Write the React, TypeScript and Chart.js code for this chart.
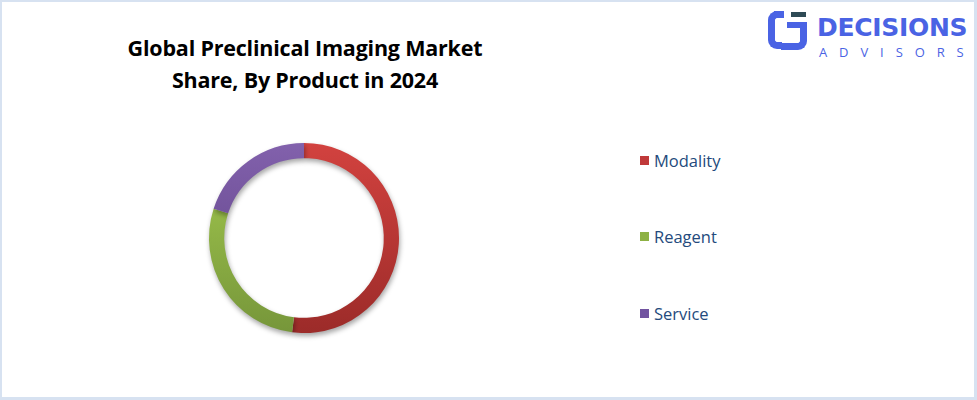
import React, { useEffect, useRef } from "react";
import { Chart, registerables } from "chart.js";

Chart.register(...registerables);

const titleLines = ["Global Preclinical Imaging Market", "Share, By Product in 2024"];
const categories = ["Modality", "Reagent", "Service"];
const shares = [52, 28, 20];
const topColors = ["#D2423F", "#A5CB4F", "#8261AC"];
const bottomColors = ["#9C2B29", "#76963A", "#5A3E82"];
const legendColors = ["#C0393A", "#8DB144", "#7153A0"];

export default function App() {
  const ref = useRef<HTMLCanvasElement | null>(null);

  useEffect(() => {
    if (!ref.current) return;
    const shadowPlugin = {
      id: "ringShadow",
      beforeDatasetsDraw(chart: any) {
        const ctx = chart.ctx;
        ctx.save();
        ctx.shadowColor = "rgba(0,0,0,0.35)";
        ctx.shadowBlur = 5;
        ctx.shadowOffsetX = 1;
        ctx.shadowOffsetY = 3;
      },
      afterDatasetsDraw(chart: any) {
        chart.ctx.restore();
      },
    };
    const chart = new Chart(ref.current, {
      type: "doughnut",
      data: {
        labels: categories,
        datasets: [
          {
            data: shares,
            borderWidth: 0,
            backgroundColor: (c: any) => {
              const area = c.chart.chartArea;
              if (!area) return topColors[c.dataIndex];
              const g = c.chart.ctx.createLinearGradient(0, area.top, 0, area.bottom);
              g.addColorStop(0, topColors[c.dataIndex]);
              g.addColorStop(1, bottomColors[c.dataIndex]);
              return g;
            },
          },
        ],
      },
      options: {
        animation: false,
        responsive: false,
        maintainAspectRatio: false,
        cutout: "84%",
        layout: { padding: 10 },
        plugins: { legend: { display: false }, tooltip: { enabled: false } },
      },
      plugins: [shadowPlugin],
    });
    return () => chart.destroy();
  }, []);

  return (
    <div
      style={{
        position: "fixed",
        left: 0,
        top: 0,
        width: 977,
        height: 400,
        boxSizing: "border-box",
        borderTop: "2px solid #D7E2F1",
        borderLeft: "2px solid #D7E2F1",
        borderRight: "3px solid #D7E2F1",
        borderBottom: "3px solid #D7E2F1",
        background: "#fff",
        fontFamily: "'Open Sans', sans-serif",
      }}
    >
      <div
        style={{
          position: "absolute",
          left: 53,
          top: 30,
          width: 500,
          textAlign: "center",
          fontWeight: 700,
          fontSize: 21.5,
          lineHeight: "32px",
          color: "#000",
          letterSpacing: -0.2,
        }}
      >
        {titleLines.map((t, i) => (
          <div key={i}>{t}</div>
        ))}
      </div>

      <canvas
        ref={ref}
        width={210}
        height={210}
        style={{ position: "absolute", left: 197, top: 131, width: 210, height: 210 }}
      />

      {categories.map((c, i) => (
        <div
          key={c}
          style={{
            position: "absolute",
            left: 638,
            top: 146 + i * 76.5,
            height: 24,
            display: "flex",
            alignItems: "center",
            fontSize: 16.5,
            color: "#244A7C",
          }}
        >
          <span
            style={{
              display: "inline-block",
              width: 9,
              height: 9,
              background: legendColors[i],
              marginRight: 5,
            }}
          />
          <span>{c}</span>
        </div>
      ))}

      {/* logo */}
      <div style={{ position: "absolute", left: 766, top: 8, width: 42, height: 42 }}>
        <div
          style={{
            position: "absolute",
            left: 0,
            top: 1,
            width: 14,
            height: 38,
            border: "7px solid #4A63E4",
            borderRight: "none",
            borderRadius: "9px 0 0 9px",
            boxSizing: "border-box",
          }}
        />
        <div style={{ position: "absolute", left: 6, top: 1, width: 10, height: 7, background: "#4A63E4" }} />
        <div style={{ position: "absolute", left: 23, top: 2, width: 15, height: 5, background: "#2E4A55" }} />
        <div
          style={{
            position: "absolute",
            left: 13,
            top: 12,
            width: 26,
            height: 28,
            borderRight: "7px solid #4A63E4",
            borderBottom: "7px solid #4A63E4",
            borderRadius: "0 0 9px 0",
            boxSizing: "border-box",
          }}
        />
        <div style={{ position: "absolute", left: 19, top: 12, width: 14, height: 6, background: "#4A63E4" }} />
      </div>
      <div
        style={{
          position: "absolute",
          left: 815,
          top: 12.5,
          fontFamily: "'DejaVu Sans', sans-serif",
          fontWeight: 700,
          fontSize: 25,
          lineHeight: "26px",
          height: 26,
          letterSpacing: -0.3,
          color: "#4A63E4",
          whiteSpace: "nowrap",
        }}
      >
        DECISIONS
      </div>
      <div
        style={{
          position: "absolute",
          left: 817,
          top: 43,
          fontFamily: "'Open Sans', sans-serif",
          fontWeight: 400,
          fontSize: 13,
          lineHeight: "14px",
          letterSpacing: 11.9,
          color: "#4A63E4",
          whiteSpace: "nowrap",
        }}
      >
        ADVISORS
      </div>
    </div>
  );
}
